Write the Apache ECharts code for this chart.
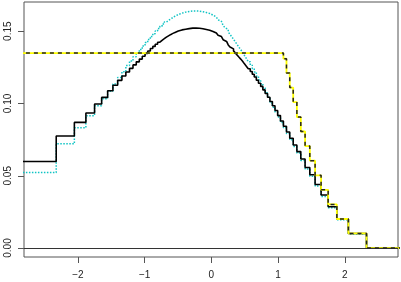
<!DOCTYPE html>
<html><head><meta charset="utf-8">
<script src="https://cdn.jsdelivr.net/npm/echarts@6/dist/echarts.min.js"></script>
<style>html,body{margin:0;padding:0;background:#fff}#c{width:401px;height:282px}</style>
</head><body><div id="c"></div>
<script>
// bin boundaries (x positions where the step functions change)
const breaks = [-2.326,-2.054,-1.881,-1.751,-1.645,-1.555,-1.476,-1.405,-1.341,-1.282,-1.227,-1.175,-1.126,-1.080,-1.036,-0.994,-0.954,-0.915,-0.878,-0.842,-0.806,-0.772,-0.739,-0.706,-0.674,-0.643,-0.613,-0.583,-0.553,-0.524,-0.496,-0.468,-0.440,-0.412,-0.385,-0.358,-0.332,-0.305,-0.279,-0.253,-0.228,-0.202,-0.176,-0.151,-0.126,-0.100,-0.075,-0.050,-0.025,0,0.025,0.050,0.075,0.100,0.126,0.151,0.176,0.202,0.228,0.253,0.279,0.305,0.332,0.358,0.385,0.412,0.440,0.468,0.496,0.524,0.553,0.583,0.613,0.643,0.674,0.706,0.739,0.772,0.806,0.842,0.878,0.915,0.954,0.994,1.036,1.080,1.126,1.175,1.227,1.282,1.341,1.405,1.476,1.555,1.645,1.751,1.881,2.054,2.326];
// black solid step values (one per bin)
const blackVals = [0.0599,0.0775,0.0869,0.0934,0.0996,0.1042,0.1088,0.1126,0.1160,0.1190,
0.1218,0.1243,0.1267,0.1288,0.1307,0.1327,0.1346,0.1363,0.1380,0.1395,
0.1410,0.1424,0.1437,0.1448,0.1459,0.1468,0.1476,0.1483,0.1490,0.1495,
0.1501,0.1505,0.1509,0.1512,0.1514,0.1516,0.1518,0.1520,0.1521,0.1521,
0.1521,0.1521,0.1520,0.1519,0.1517,0.1515,0.1512,0.1510,0.1507,0.1503,
0.1498,0.1493,0.1487,0.1480,0.1472,0.1463,0.1453,0.1441,0.1429,0.1418,
0.1405,0.1391,0.1378,0.1364,0.1350,0.1336,0.1321,0.1307,0.1292,0.1274,
0.1258,0.1240,0.1221,0.1202,0.1183,0.1161,0.1140,0.1118,0.1094,0.1069,
0.1043,0.1014,0.0984,0.0951,0.0916,0.0879,0.0842,0.0803,0.0759,0.0713,
0.0667,0.0616,0.0557,0.0507,0.0440,0.0367,0.0286,0.0201,0.0101,0];
// cyan dotted step values
const cyanVals = [0.0523,0.0721,0.0832,0.0915,0.0984,0.1033,0.1085,0.1135,0.1180,0.1220,
0.1262,0.1293,0.1323,0.1349,0.1373,0.1398,0.1422,0.1443,0.1464,0.1483,
0.1502,0.1519,0.1535,0.1549,0.1563,0.1574,0.1584,0.1593,0.1602,0.1608,
0.1615,0.1620,0.1625,0.1629,0.1632,0.1634,0.1637,0.1639,0.1640,0.1640,
0.1640,0.1640,0.1639,0.1638,0.1635,0.1633,0.1629,0.1627,0.1623,0.1618,
0.1611,0.1605,0.1598,0.1589,0.1579,0.1568,0.1555,0.1540,0.1525,0.1512,
0.1495,0.1478,0.1462,0.1444,0.1427,0.1409,0.1390,0.1373,0.1354,0.1332,
0.1312,0.1289,0.1265,0.1242,0.1218,0.1190,0.1164,0.1137,0.1107,0.1075,
0.1043,0.1004,0.0974,0.0941,0.0906,0.0869,0.0832,0.0793,0.0749,0.0703,
0.0657,0.0606,0.0547,0.0497,0.0430,0.0357,0.0278,0.0195,0.0097,0];
// yellow / dashed step: boundaries and values
const capBreaks = [1.080,1.126,1.175,1.227,1.282,1.341,1.405,1.476,1.555,1.645,1.751,1.881,2.054,2.326];
const capVals = [0.1349,0.131,0.121,0.111,0.101,0.0906,0.0806,0.0705,0.0604,0.0503,0.0403,0.0302,0.0201,0.0101,0];
const xTicks = [-2,-1,0,1,2];
const yTicks = [0,0.05,0.1,0.15];

function stepData(bx, vals){
  const d = [[-3.5, vals[0]]];
  for (let i=0;i<bx.length;i++) d.push([bx[i], vals[i+1]]);
  d.push([3.5, vals[vals.length-1]]);
  return d;
}
const chart = echarts.init(document.getElementById('c'), null, {renderer:'canvas'});
const lab = {fontFamily:'Liberation Sans, Arial, sans-serif', fontSize:10, color:'#222'};
chart.setOption({
  animation:false,
  grid:{left:24,right:3,top:2,bottom:25,show:true,borderColor:'#555',borderWidth:1,backgroundColor:'transparent'},
  xAxis:{type:'value',min:-2.809,max:2.798,position:'bottom',
    axisLine:{show:false,onZero:false},splitLine:{show:false},
    axisTick:{show:true,length:6,inside:false,customValues:xTicks,lineStyle:{color:'#555'}},
    axisLabel:Object.assign({margin:13,customValues:xTicks,formatter:v=>String(v).replace('-','\u2212')},lab)},
  yAxis:{type:'value',min:-0.0062,max:0.1702,position:'left',
    axisLine:{show:false,onZero:false},splitLine:{show:false},
    axisTick:{show:true,length:6,customValues:yTicks,lineStyle:{color:'#555'}},
    axisLabel:Object.assign({margin:11,rotate:90,customValues:yTicks,formatter:v=>v.toFixed(2)},lab)},
  series:[
    {type:'line',step:'end',data:stepData(breaks,cyanVals),showSymbol:false,
      lineStyle:{color:'#10c4c4',width:1.5,type:[1.5,1.5]},z:2},
    {type:'line',step:'end',data:stepData(breaks,blackVals),showSymbol:false,
      lineStyle:{color:'#000',width:1.6},z:3,
      markLine:{silent:true,symbol:'none',label:{show:false},lineStyle:{color:'#333',width:1,type:'solid'},data:[{yAxis:0}]}},
    {type:'line',step:'end',data:stepData(capBreaks,capVals),showSymbol:false,
      lineStyle:{color:'#ffff00',width:1.8},z:4},
    {type:'line',step:'end',data:stepData(capBreaks,capVals),showSymbol:false,
      lineStyle:{color:'#222',width:1.5,type:[4,4]},z:5}
  ]
});
</script></body></html>
